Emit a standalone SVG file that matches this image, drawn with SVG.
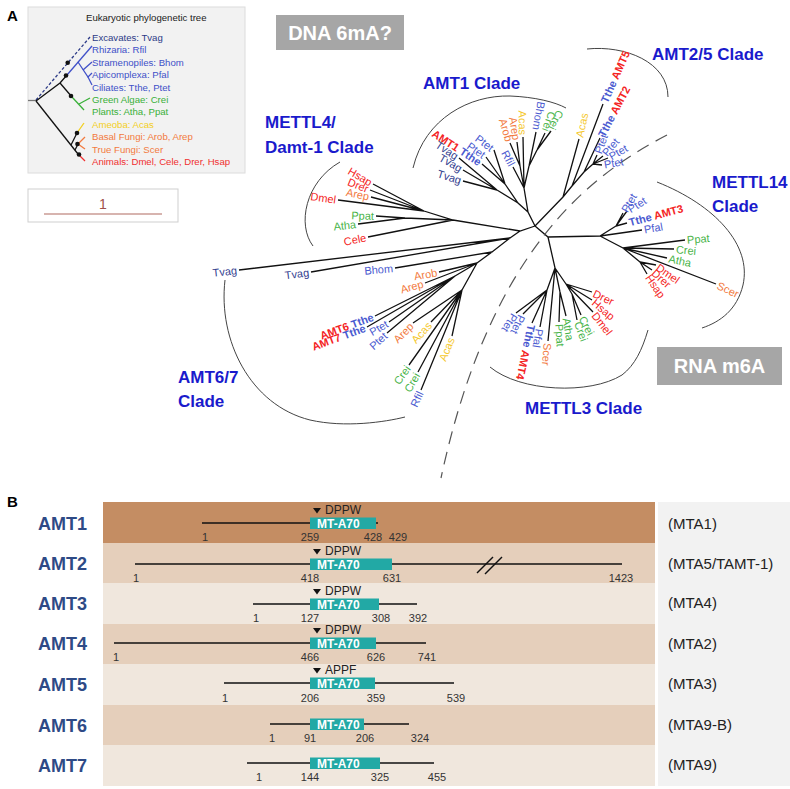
<svg xmlns="http://www.w3.org/2000/svg" width="790" height="789" viewBox="0 0 790 789">
<style>
text{font-family:"Liberation Sans",Arial,sans-serif}
.lb{font-size:11px;dominant-baseline:central}
.bd{font-weight:bold}
.nv{fill:#34418f}.bl{fill:#4a5ad0}.gr{fill:#47b347}.ye{fill:#f5c82e}.or{fill:#f27a3e}.rd{fill:#f42424}
.ct{font-size:17px;font-weight:bold;fill:#1a1acc}
.edge{fill:none;stroke:#111;stroke-width:1.3}
.arc{fill:none;stroke:#444;stroke-width:1}
.it{font-size:9.6px}
.num{font-size:11px;fill:#333;text-anchor:middle}
.amt{font-size:18px;font-weight:bold;fill:#2e4a86}
.mta{font-size:15px;fill:#222}
.dom{fill:#22a9a5}
.dt{font-size:12px;font-weight:bold;fill:#fff}
.pl{stroke:#111;stroke-width:1.5}
.motif{font-size:12px;fill:#222}
.gbox{fill:#a6a6a6}
.gtxt{font-size:20px;font-weight:bold;fill:#fff;text-anchor:middle}
</style>

<!-- Panel labels -->
<text x="7" y="21" style="font-size:15px;font-weight:bold">A</text>
<text x="7" y="507" style="font-size:15px;font-weight:bold">B</text>

<!-- Inset: eukaryotic tree -->
<g id="inset">
  <rect x="28" y="7" width="217" height="166" fill="#f2f2f2" stroke="#dcdcdc"/>
  <text x="86" y="20.5" class="it" fill="#222">Eukaryotic phylogenetic tree</text>
  <g fill="none" stroke-width="1.3">
    <line x1="28" y1="100.5" x2="36" y2="100.5" stroke="#777"/>
    <line x1="36" y1="100" x2="90" y2="37" stroke="#2c3a87" stroke-dasharray="3 2"/>
    <polyline points="36,101 60,83 67,75" stroke="#111"/>
    <line x1="67" y1="75" x2="92" y2="46" stroke="#4050c8"/>
    <polyline points="78,62 88,77 92,73" stroke="#4050c8"/>
    <line x1="88" y1="77" x2="92" y2="85" stroke="#4050c8"/>
    <line x1="83" y1="70" x2="92" y2="62" stroke="#4050c8"/>
    <line x1="60" y1="83" x2="72" y2="97" stroke="#111"/>
    <line x1="72" y1="97" x2="84" y2="110" stroke="#39b039"/>
    <line x1="79" y1="104" x2="90" y2="98" stroke="#39b039"/>
    <line x1="36" y1="101" x2="78" y2="154" stroke="#111"/>
    <line x1="78" y1="154" x2="85" y2="161" stroke="#f03030"/>
    <line x1="71" y1="145" x2="77" y2="133" stroke="#111"/>
    <line x1="77" y1="133" x2="84" y2="123" stroke="#f2cf1e"/>
    <line x1="75" y1="150" x2="78" y2="144" stroke="#111"/>
    <line x1="78" y1="144" x2="85" y2="137" stroke="#f27a3e"/>
    <line x1="78" y1="144" x2="85" y2="149" stroke="#f27a3e"/>
  </g>
  <g fill="#111">
    <circle cx="67.7" cy="62.7" r="2.3"/><circle cx="66" cy="75.5" r="2.3"/><circle cx="71" cy="96" r="2.3"/>
    <circle cx="77" cy="133" r="2.3"/><circle cx="77.5" cy="144" r="2.3"/><circle cx="79" cy="154.5" r="2.3"/>
  </g>
  <g class="it">
    <text x="92" y="41" fill="#2c3a87">Excavates: Tvag</text>
    <text x="92" y="53.4" fill="#4050c8">Rhizaria: Rfil</text>
    <text x="92" y="65.8" fill="#4050c8">Stramenopiles: Bhom</text>
    <text x="92" y="78.2" fill="#4050c8">Apicomplexa: Pfal</text>
    <text x="92" y="90.6" fill="#4050c8">Ciliates: Tthe, Ptet</text>
    <text x="92" y="103" fill="#39b039">Green Algae: Crei</text>
    <text x="92" y="115.4" fill="#39b039">Plants: Atha, Ppat</text>
    <text x="92" y="127.8" fill="#f2cf1e">Ameoba: Acas</text>
    <text x="92" y="140.2" fill="#f27a3e">Basal Fungi: Arob, Arep</text>
    <text x="92" y="152.6" fill="#f27a3e">True Fungi: Scer</text>
    <text x="92" y="165" fill="#f03030">Animals: Dmel, Cele, Drer,  Hsap</text>
  </g>
</g>

<g id="scalebar">
  <rect x="28" y="189" width="150" height="33" fill="#fff" stroke="#cfcfcf"/>
  <text x="103" y="209" text-anchor="middle" style="font-size:14px" fill="#a0504a">1</text>
  <line x1="44" y1="214" x2="162" y2="214" stroke="#b06a60" stroke-width="1.2"/>
</g>

<g id="dna-box"><rect x="276" y="15" width="128" height="35" class="gbox"/><text x="340" y="39.5" class="gtxt">DNA 6mA?</text></g>
<g id="rna-box"><rect x="657" y="347" width="125" height="38" class="gbox"/><text x="719.5" y="373" class="gtxt">RNA m6A</text></g>

<!-- Clade titles -->
<g id="clade-titles">
  <text x="423" y="89" class="ct">AMT1 Clade</text>
  <text x="652" y="60" class="ct">AMT2/5 Clade</text>
  <text x="265" y="128" class="ct">METTL4/</text>
  <text x="265" y="153" class="ct">Damt-1 Clade</text>
  <text x="712" y="188" class="ct">METTL14</text>
  <text x="712" y="212" class="ct">Clade</text>
  <text x="178" y="383" class="ct">AMT6/7</text>
  <text x="178" y="407" class="ct">Clade</text>
  <text x="525" y="414" class="ct">METTL3 Clade</text>
</g>

<!-- Connectors: tree branches, clade arcs, dashed divider -->
<g id="connectors">
  <path class="edge" d="M535,226 L528,212 L524,188 M524,188 L520,166 M524,188 L529,166 L537,150
  M528,212 L518,203 L505,184 M518,203 L497,190
  M535,226 L563,197 L572,186 L584,172 L593,164
  M535,226 L548,237 L600,236 M600,236 L616,226 M600,236 L623,248 L640,262
  M548,237 L555,268 L566,284 L572,294 M555,268 L547,290 M555,268 L560,292
  M535,226 L520,231 L453,220 L424,211 M453,220 L405,218
  M520,231 L510,238 L492,252 L477,263 L455,276 M477,263 L462,290
  M524,188 L513,167 M520,166 L510,143 M520,166 L517,142 M524,188 L523,137
  M529,166 L536,132 M537,150 L545,133 M537,150 L551,131
  M505,184 L482,164 M505,184 L486,157 M505,184 L494,150
  M497,190 L459,158 M497,190 L463,170 M497,190 L463,181
  M563,197 L579,139 M572,186 L603,104 M584,172 L600,138
  M593,164 L597,155 M593,164 L603,156 M593,164 L608,158 M593,164 L602,165
  M616,226 L623,213 M616,226 L627,211 M616,226 L627,223 M600,236 L642,230
  M623,248 L685,240 M623,248 L674,249 M623,248 L667,258 M623,248 L716,284
  M640,262 L656,265 M640,262 L652,270 M640,262 L647,274
  M566,284 L592,292 M566,284 L592,300 M566,284 L593,312
  M572,294 L581,315 M572,294 L577,320 M560,292 L566,316 M560,292 L559,322
  M555,268 L548,341
  M547,290 L540,327 M547,290 L532,323 M547,290 L523,314 M547,290 L516,313
  M424,211 L373,184 M424,211 L370,190 M424,211 L371,197 M424,211 L338,200
  M405,218 L376,216 M405,218 L358,224 M453,220 L368,237
  M510,238 L239,270 M510,238 L311,272 M492,252 L395,268
  M477,263 L439,272 M477,263 L425,283
  M455,276 L375,316 M455,276 L367,327 M455,276 L389,322 M455,276 L387,333
  M462,290 L413,323 M462,290 L431,322 M462,290 L452,336 M462,290 L409,365 M462,290 L418,372 M462,290 L421,390"/>
  <path class="arc" d="M413,168 C425,118 470,95 510,96 C535,97 555,102 566,108"/>
  <path class="arc" d="M587,49 C625,45 668,62 668,97"/>
  <path class="arc" d="M340,162 C305,182 297,225 313,246"/>
  <path class="arc" d="M657,182 C715,205 752,245 743,285 C737,310 720,322 702,328"/>
  <path class="arc" d="M490,367 C520,392 590,395 622,375 C635,365 642,350 648,330"/>
  <path class="arc" d="M225,280 C218,340 250,405 310,420 C345,428 385,422 405,417"/>
  <path d="M667,135 C590,175 490,250 441,478" fill="none" stroke="#555" stroke-width="1.2" stroke-dasharray="13 8"/>
</g>

<!-- AMT1 clade leaves -->
<g id="clade-amt1" class="lb">
  <g id="amt1-rfil"><text class="bl" text-anchor="end" transform="translate(513,167) rotate(62)" x="-2">Rfil</text></g>
  <g id="amt1-arob"><text class="or" text-anchor="end" transform="translate(510,143) rotate(73)" x="-2">Arob</text></g>
  <g id="amt1-arep"><text class="or" text-anchor="end" transform="translate(517,142) rotate(81)" x="-2">Arep</text></g>
  <g id="amt1-acas"><text class="ye" text-anchor="end" transform="translate(523,137) rotate(89)" x="-2">Acas</text></g>
  <g id="amt1-bhom"><text class="bl" text-anchor="end" transform="translate(536,132) rotate(100)" x="-2">Bhom</text></g>
  <g id="amt1-crei1"><text class="gr" text-anchor="end" transform="translate(545,133) rotate(110)" x="-2">Crei</text></g>
  <g id="amt1-crei2"><text class="gr" text-anchor="end" transform="translate(551,131) rotate(116)" x="-2">Crei</text></g>
  <g id="amt1-tthe"><text class="bd" text-anchor="end" transform="translate(482,164) rotate(33)" x="-2"><tspan class="rd">AMT1</tspan> <tspan class="bl">Tthe</tspan></text></g>
  <g id="amt1-ptet1"><text class="bl" text-anchor="end" transform="translate(486,157) rotate(35)" x="-2">Ptet</text></g>
  <g id="amt1-ptet2"><text class="bl" text-anchor="end" transform="translate(494,150) rotate(37)" x="-2">Ptet</text></g>
  <g id="amt1-tvag1"><text class="nv" text-anchor="end" transform="translate(459,158) rotate(33)" x="-2">Tvag</text></g>
  <g id="amt1-tvag2"><text class="nv" text-anchor="end" transform="translate(463,170) rotate(30)" x="-2">Tvag</text></g>
  <g id="amt1-tvag3"><text class="nv" text-anchor="end" transform="translate(463,181) rotate(17)" x="-2">Tvag</text></g>
</g>

<!-- AMT2/5 clade leaves -->
<g id="clade-amt25" class="lb">
  <g id="amt25-acas"><text class="ye" transform="translate(579,139) rotate(-78)" x="2">Acas</text></g>
  <g id="amt25-amt5"><text class="bd" transform="translate(603,104) rotate(-66)" x="2"><tspan class="bl">Tthe</tspan> <tspan class="rd">AMT5</tspan></text></g>
  <g id="amt25-amt2"><text class="bd" transform="translate(600,138) rotate(-62)" x="2"><tspan class="bl">Tthe</tspan> <tspan class="rd">AMT2</tspan></text></g>
  <g id="amt25-ptet1"><text class="bl" transform="translate(597,155) rotate(-70)" x="2">Ptet</text></g>
  <g id="amt25-ptet2"><text class="bl" transform="translate(603,156) rotate(-50)" x="2">Ptet</text></g>
  <g id="amt25-ptet3"><text class="bl" transform="translate(608,158) rotate(-30)" x="2">Ptet</text></g>
  <g id="amt25-ptet4"><text class="bl" transform="translate(602,165) rotate(-10)" x="2">Ptet</text></g>
</g>

<!-- METTL14 clade leaves -->
<g id="clade-mettl14" class="lb">
  <g id="m14-ptet1"><text class="bl" transform="translate(623,213) rotate(-60)" x="2">Ptet</text></g>
  <g id="m14-ptet2"><text class="bl" transform="translate(627,211) rotate(-32)" x="2">Ptet</text></g>
  <g id="m14-amt3"><text class="bd" transform="translate(627,223) rotate(-15)" x="2"><tspan class="bl">Tthe</tspan> <tspan class="rd">AMT3</tspan></text></g>
  <g id="m14-pfal"><text class="bl" transform="translate(642,230) rotate(-10)" x="2">Pfal</text></g>
  <g id="m14-ppat"><text class="gr" transform="translate(685,240) rotate(-5)" x="2">Ppat</text></g>
  <g id="m14-crei"><text class="gr" transform="translate(674,249) rotate(5)" x="2">Crei</text></g>
  <g id="m14-atha"><text class="gr" transform="translate(667,258) rotate(12)" x="2">Atha</text></g>
  <g id="m14-scer"><text class="or" transform="translate(716,284) rotate(25)" x="2">Scer</text></g>
  <g id="m14-dmel"><text class="rd" transform="translate(656,265) rotate(35)" x="2">Dmel</text></g>
  <g id="m14-drer"><text class="rd" transform="translate(652,270) rotate(42)" x="2">Drer</text></g>
  <g id="m14-hsap"><text class="rd" transform="translate(647,274) rotate(55)" x="2">Hsap</text></g>
</g>

<!-- METTL3 clade leaves -->
<g id="clade-mettl3" class="lb">
  <g id="m3-drer"><text class="rd" transform="translate(592,292) rotate(25)" x="2">Drer</text></g>
  <g id="m3-hsap"><text class="rd" transform="translate(592,300) rotate(40)" x="2">Hsap</text></g>
  <g id="m3-dmel"><text class="rd" transform="translate(593,312) rotate(52)" x="2">Dmel</text></g>
  <g id="m3-crei1"><text class="gr" transform="translate(581,315) rotate(62)" x="2">Crei</text></g>
  <g id="m3-crei2"><text class="gr" transform="translate(577,320) rotate(70)" x="2">Crei</text></g>
  <g id="m3-atha"><text class="gr" transform="translate(566,316) rotate(80)" x="2">Atha</text></g>
  <g id="m3-ppat"><text class="gr" transform="translate(559,322) rotate(86)" x="2">Ppat</text></g>
  <g id="m3-scer"><text class="or" transform="translate(548,341) rotate(95)" x="2">Scer</text></g>
  <g id="m3-pfal"><text class="bl" transform="translate(540,327) rotate(100)" x="2">Pfal</text></g>
  <g id="m3-amt4"><text class="bd" transform="translate(532,323) rotate(102)" x="2"><tspan class="bl">Tthe</tspan> <tspan class="rd">AMT4</tspan></text></g>
  <g id="m3-ptet1"><text class="bl" transform="translate(523,314) rotate(115)" x="2">Ptet</text></g>
  <g id="m3-ptet2"><text class="bl" transform="translate(516,313) rotate(122)" x="2">Ptet</text></g>
</g>

<!-- METTL4 clade leaves -->
<g id="clade-mettl4" class="lb">
  <g id="m4-hsap"><text class="rd" text-anchor="end" transform="translate(373,184) rotate(30)" x="-2">Hsap</text></g>
  <g id="m4-drer"><text class="rd" text-anchor="end" transform="translate(370,190) rotate(22)" x="-2">Drer</text></g>
  <g id="m4-arep"><text class="or" text-anchor="end" transform="translate(371,197) rotate(12)" x="-2">Arep</text></g>
  <g id="m4-dmel"><text class="rd" text-anchor="end" transform="translate(338,200) rotate(8)" x="-2">Dmel</text></g>
  <g id="m4-ppat"><text class="gr" text-anchor="end" transform="translate(376,216) rotate(2)" x="-2">Ppat</text></g>
  <g id="m4-atha"><text class="gr" text-anchor="end" transform="translate(358,224) rotate(-6)" x="-2">Atha</text></g>
  <g id="m4-cele"><text class="rd" text-anchor="end" transform="translate(368,237) rotate(-11)" x="-2">Cele</text></g>
</g>

<!-- Long branches -->
<g id="long-branches" class="lb">
  <g id="tvag-long1"><text class="nv" text-anchor="end" transform="translate(239,270) rotate(-6)" x="-2">Tvag</text></g>
  <g id="tvag-long2"><text class="nv" text-anchor="end" transform="translate(311,272) rotate(-7)" x="-2">Tvag</text></g>
  <g id="bhom-long"><text class="bl" text-anchor="end" transform="translate(395,268) rotate(-5)" x="-2">Bhom</text></g>
</g>

<!-- AMT6/7 clade leaves -->
<g id="clade-amt67" class="lb">
  <g id="a67-arob"><text class="or" text-anchor="end" transform="translate(439,272) rotate(-10)" x="-2">Arob</text></g>
  <g id="a67-arep1"><text class="or" text-anchor="end" transform="translate(425,283) rotate(-15)" x="-2">Arep</text></g>
  <g id="a67-amt6"><text class="bd" text-anchor="end" transform="translate(375,316) rotate(-20)" x="-2"><tspan class="rd">AMT6</tspan> <tspan class="bl">Tthe</tspan></text></g>
  <g id="a67-amt7"><text class="bd" text-anchor="end" transform="translate(367,327) rotate(-20)" x="-2"><tspan class="rd">AMT7</tspan> <tspan class="bl">Tthe</tspan></text></g>
  <g id="a67-ptet1"><text class="bl" text-anchor="end" transform="translate(389,322) rotate(-30)" x="-2">Ptet</text></g>
  <g id="a67-ptet2"><text class="bl" text-anchor="end" transform="translate(387,333) rotate(-42)" x="-2">Ptet</text></g>
  <g id="a67-arep2"><text class="or" text-anchor="end" transform="translate(413,323) rotate(-45)" x="-2">Arep</text></g>
  <g id="a67-acas1"><text class="ye" text-anchor="end" transform="translate(431,322) rotate(-48)" x="-2">Acas</text></g>
  <g id="a67-acas2"><text class="ye" text-anchor="end" transform="translate(452,336) rotate(-68)" x="-2">Acas</text></g>
  <g id="a67-crei1"><text class="gr" text-anchor="end" transform="translate(409,365) rotate(-55)" x="-2">Crei</text></g>
  <g id="a67-crei2"><text class="gr" text-anchor="end" transform="translate(418,372) rotate(-60)" x="-2">Crei</text></g>
  <g id="a67-rfil"><text class="bl" text-anchor="end" transform="translate(421,390) rotate(-65)" x="-2">Rfil</text></g>
</g>

<!-- Panel B -->
<g id="panel-b">
  <rect x="658" y="502" width="132" height="284" fill="#f2f2f2"/>
  <rect x="103" y="502" width="552" height="41" fill="#c48d63"/>
  <rect x="103" y="543" width="552" height="40" fill="#e5cfbb"/>
  <rect x="103" y="583" width="552" height="41" fill="#f0e7dd"/>
  <rect x="103" y="624" width="552" height="40" fill="#e5cfbb"/>
  <rect x="103" y="664" width="552" height="41" fill="#f0e7dd"/>
  <rect x="103" y="705" width="552" height="40" fill="#e5cfbb"/>
  <rect x="103" y="745" width="552" height="41" fill="#f0e7dd"/>

  <g id="row-amt1">
    <text x="38" y="530" class="amt">AMT1</text>
    <line x1="202" y1="523" x2="378" y2="523" class="pl"/>
    <rect x="310" y="517.5" width="66" height="11.5" class="dom"/>
    <text x="317" y="528" class="dt">MT-A70</text>
    <polygon points="313,508 321,508 317,513.5" fill="#111"/><text x="325" y="514" class="motif">DPPW</text>
    <text x="205" y="541" class="num">1</text><text x="310" y="541" class="num">259</text><text x="373" y="541" class="num">428</text><text x="398" y="541" class="num">429</text>
    <text x="668" y="529" class="mta">(MTA1)</text>
  </g>
  <g id="row-amt2">
    <text x="38" y="570" class="amt">AMT2</text>
    <line x1="135" y1="564" x2="622" y2="564" class="pl"/>
    <line x1="477" y1="573" x2="493" y2="557" class="pl"/><line x1="485" y1="574" x2="502" y2="557" class="pl"/>
    <rect x="310" y="558.5" width="82" height="11.5" class="dom"/>
    <text x="317" y="569" class="dt">MT-A70</text>
    <polygon points="313,549 321,549 317,554.5" fill="#111"/><text x="325" y="555" class="motif">DPPW</text>
    <text x="136" y="582" class="num">1</text><text x="310" y="582" class="num">418</text><text x="392" y="582" class="num">631</text><text x="621" y="582" class="num">1423</text>
    <text x="668" y="569" class="mta">(MTA5/TAMT-1)</text>
  </g>
  <g id="row-amt3">
    <text x="38" y="610" class="amt">AMT3</text>
    <line x1="253" y1="604" x2="417" y2="604" class="pl"/>
    <rect x="310" y="598.5" width="69" height="11.5" class="dom"/>
    <text x="317" y="609" class="dt">MT-A70</text>
    <polygon points="313,589 321,589 317,594.5" fill="#111"/><text x="325" y="595" class="motif">DPPW</text>
    <text x="256" y="622" class="num">1</text><text x="310" y="622" class="num">127</text><text x="381" y="622" class="num">308</text><text x="418" y="622" class="num">392</text>
    <text x="668" y="608" class="mta">(MTA4)</text>
  </g>
  <g id="row-amt4">
    <text x="38" y="650" class="amt">AMT4</text>
    <line x1="114" y1="643" x2="426" y2="643" class="pl"/>
    <rect x="310" y="637.5" width="66" height="11.5" class="dom"/>
    <text x="317" y="648" class="dt">MT-A70</text>
    <polygon points="313,628 321,628 317,633.5" fill="#111"/><text x="325" y="634" class="motif">DPPW</text>
    <text x="116" y="661" class="num">1</text><text x="310" y="661" class="num">466</text><text x="376" y="661" class="num">626</text><text x="427" y="661" class="num">741</text>
    <text x="668" y="649" class="mta">(MTA2)</text>
  </g>
  <g id="row-amt5">
    <text x="38" y="691" class="amt">AMT5</text>
    <line x1="224" y1="683" x2="454" y2="683" class="pl"/>
    <rect x="310" y="677.5" width="65" height="11.5" class="dom"/>
    <text x="317" y="688" class="dt">MT-A70</text>
    <polygon points="313,668 321,668 317,673.5" fill="#111"/><text x="325" y="674" class="motif">APPF</text>
    <text x="225" y="702" class="num">1</text><text x="310" y="702" class="num">206</text><text x="376" y="702" class="num">359</text><text x="456" y="702" class="num">539</text>
    <text x="668" y="689" class="mta">(MTA3)</text>
  </g>
  <g id="row-amt6">
    <text x="38" y="732" class="amt">AMT6</text>
    <line x1="270" y1="724" x2="409" y2="724" class="pl"/>
    <rect x="310" y="718.5" width="54" height="11.5" class="dom"/>
    <text x="317" y="729" class="dt">MT-A70</text>
    <text x="272" y="742" class="num">1</text><text x="310" y="742" class="num">91</text><text x="365" y="742" class="num">206</text><text x="420" y="742" class="num">324</text>
    <text x="668" y="730" class="mta">(MTA9-B)</text>
  </g>
  <g id="row-amt7">
    <text x="38" y="772" class="amt">AMT7</text>
    <line x1="247" y1="763" x2="434" y2="763" class="pl"/>
    <rect x="310" y="757.5" width="70" height="11.5" class="dom"/>
    <text x="317" y="768" class="dt">MT-A70</text>
    <text x="259" y="781" class="num">1</text><text x="310" y="781" class="num">144</text><text x="380" y="781" class="num">325</text><text x="437" y="781" class="num">455</text>
    <text x="668" y="770" class="mta">(MTA9)</text>
  </g>
</g>
</svg>
